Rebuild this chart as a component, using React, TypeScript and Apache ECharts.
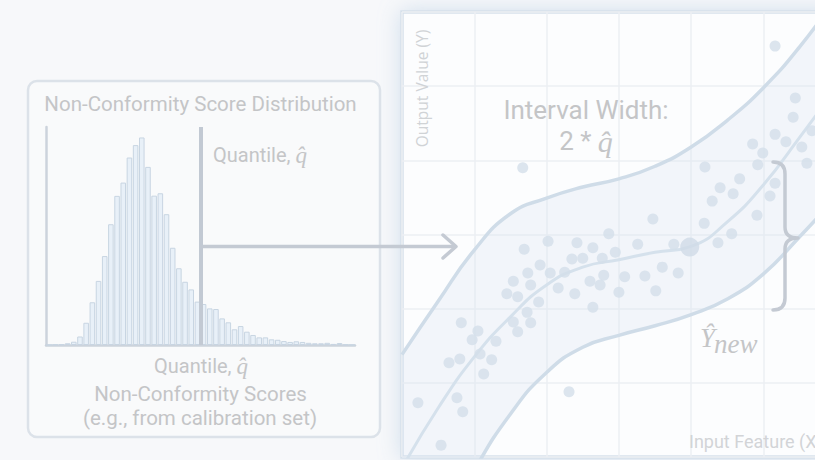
import React, { useEffect, useRef } from "react";
import * as echarts from "echarts";

// ---------- Histogram of non-conformity scores ----------
const histCounts = [
  0, 0.2, 0.3, 0.8, 1.5, 3.9, 10.2, 19.6, 29.4, 40.8, 55.4, 68.4, 74.5, 86, 91.7, 95.2,
  81.7, 68.5, 69.6, 60, 44.6, 35.2, 29, 25.5, 19.9, 18.8, 16.8, 16.5, 12.2, 10.4, 7.2,
  8.7, 6.1, 4.6, 3.5, 3.5, 2.6, 2.4, 1.8, 1.4, 1.7, 1.4, 1.0, 0.8, 0.8, 1.0, 0.5, 0.9,
  0.2, 0,
];
const histBins = histCounts.map((_, i) => `bin ${i + 1}`);

// ---------- Regression view (x: input feature, y: output value) ----------
const curveX = ["0", "0.5", "1", "1.5", "2", "2.5", "3", "3.5", "4", "4.5", "5", "5.5", "6"];
const upperBound = [1.38, 2.1, 2.79, 3.28, 3.49, 3.64, 3.75, 3.92, 4.18, 4.54, 4.98, 5.53, 6.19];
const centerFit = [-0.15, 0.66, 1.35, 1.89, 2.32, 2.56, 2.66, 2.76, 2.84, 3.17, 3.67, 4.31, 4.97];
const lowerBound = [-2.2, -1.1, -0.18, 0.58, 1.14, 1.48, 1.64, 1.77, 1.92, 2.13, 2.47, 2.97, 3.5];

const calibrationPoints: [number, number][] = [
  [5.16, 5.54], [5.44, 4.84], [5.41, 4.58], [5.16, 4.35], [4.85, 4.22], [4.99, 4.1],
  [5.31, 4.25], [5.53, 4.18], [5.67, 4.4], [5.6, 3.96], [4.92, 3.94], [4.19, 3.91],
  [1.67, 3.9], [4.67, 3.75], [4.4, 3.63], [5.16, 3.69], [4.29, 3.45], [4.58, 3.55],
  [5.09, 3.52], [4.91, 3.26], [3.47, 3.21], [4.18, 3.15], [4.56, 3.01], [4.37, 2.89],
  [2.86, 3.01], [2.02, 2.91], [2.42, 2.89], [3.26, 2.87], [1.69, 2.8], [2.64, 2.82],
  [2.95, 2.76], [3.76, 2.87], [2.35, 2.67], [2.5, 2.68], [2.77, 2.68], [1.91, 2.59],
  [1.74, 2.48], [2.05, 2.48], [2.25, 2.49], [3.6, 2.56], [3.82, 2.48], [2.79, 2.45],
  [3.08, 2.43], [3.36, 2.44], [1.54, 2.37], [2.6, 2.37], [2.74, 2.32], [1.78, 2.32],
  [2.16, 2.28], [1.45, 2.2], [1.6, 2.16], [2.39, 2.2], [3.0, 2.22], [3.51, 2.24],
  [1.89, 2.09], [1.73, 1.95], [2.64, 2.02], [1.54, 1.82], [1.78, 1.81], [1.6, 1.69],
  [0.82, 1.81], [1.05, 1.7], [0.97, 1.58], [1.3, 1.56], [1.08, 1.39], [1.24, 1.31],
  [0.8, 1.32], [0.65, 1.27], [1.13, 1.12], [2.31, 0.88], [0.76, 0.8], [0.22, 0.73],
  [0.84, 0.61], [0.54, 0.16],
];
const newPoint: [number, number][] = [[3.98, 2.83]];

// ---------- Brace shape ----------
const bracePath =
  "M773,162 Q785,162 785,174 L785,227 Q785,238 798,238 Q785,238 785,249 L785,298 Q785,310 773,310";
echarts.graphic.registerShape("brace", echarts.graphic.extendPath(bracePath, {}) as any);

const TEXT = "#c4c5c7";
const LINE = "#c4cad3";

function buildOption(): any {
  const bandWidth = upperBound.map((u, i) => u - lowerBound[i]);
  const qhat = "q\u0302";
  const hiddenAxis = {
    axisLine: { show: false },
    axisTick: { show: false },
    axisLabel: { show: false },
  };
  const panelGrid = { show: true, lineStyle: { color: "#eceff3", width: 1.5 } };

  return {
    animation: false,
    backgroundColor: "#f7f8fa",
    grid: [
      { left: 46, top: 127, width: 309, height: 218, outerBoundsMode: "none" },
      {
        left: 402,
        top: 12,
        width: 433.8,
        height: 445,
        outerBoundsMode: "none",
        show: true,
        backgroundColor: "#fcfdfe",
        borderColor: "#d6e1eb",
        borderWidth: 3.5,
        shadowColor: "rgba(160,190,220,0.45)",
        shadowBlur: 22,
      },
    ],
    xAxis: [
      {
        gridIndex: 0,
        type: "category",
        data: histBins,
        axisLine: { show: true, lineStyle: { color: "#ccd3dc", width: 2.5 } },
        axisTick: { show: false },
        axisLabel: { show: false },
        splitLine: { show: false },
      },
      {
        gridIndex: 1,
        type: "value",
        min: 0,
        max: 6,
        interval: 1,
        ...hiddenAxis,
        splitLine: panelGrid,
      },
      {
        gridIndex: 1,
        type: "category",
        data: curveX,
        boundaryGap: false,
        show: false,
        ...hiddenAxis,
        splitLine: { show: false },
      },
    ],
    yAxis: [
      {
        gridIndex: 0,
        type: "value",
        min: 0,
        max: 100,
        axisLine: { show: true, lineStyle: { color: "#ccd3dc", width: 2.5 } },
        axisTick: { show: false },
        axisLabel: { show: false },
        splitLine: { show: false },
      },
      {
        gridIndex: 1,
        type: "value",
        min: 0,
        max: 6,
        interval: 1,
        ...hiddenAxis,
        splitLine: panelGrid,
      },
    ],
    series: [
      {
        type: "bar",
        xAxisIndex: 0,
        yAxisIndex: 0,
        data: histCounts,
        barCategoryGap: "10%",
        itemStyle: { color: "#e8f0f8", borderColor: "#c8d5e2", borderWidth: 1 },
        z: 2,
      },
      {
        type: "line",
        xAxisIndex: 2,
        yAxisIndex: 1,
        data: lowerBound,
        stack: "band",
        stackStrategy: "all",
        smooth: 0.5,
        symbol: "none",
        lineStyle: { color: "#cfdce8", width: 3.5 },
        z: 2,
      },
      {
        type: "line",
        xAxisIndex: 2,
        yAxisIndex: 1,
        data: bandWidth,
        stack: "band",
        stackStrategy: "all",
        smooth: 0.5,
        symbol: "none",
        lineStyle: { color: "#cfdce8", width: 3.5 },
        areaStyle: { color: "rgba(214,228,241,0.4)" },
        z: 2,
      },
      {
        type: "line",
        xAxisIndex: 2,
        yAxisIndex: 1,
        data: centerFit,
        smooth: 0.5,
        symbol: "none",
        lineStyle: { color: "#d5e1ec", width: 3 },
        z: 3,
      },
      {
        type: "scatter",
        xAxisIndex: 1,
        yAxisIndex: 1,
        data: calibrationPoints,
        symbolSize: 11,
        itemStyle: { color: "#d3dfea" },
        z: 4,
      },
      {
        type: "scatter",
        xAxisIndex: 1,
        yAxisIndex: 1,
        data: newPoint,
        symbolSize: 19,
        itemStyle: { color: "#cfdbe7" },
        z: 4,
      },
    ],
    graphic: [
      {
        type: "rect",
        z: 0,
        shape: { x: 28, y: 81, width: 352, height: 356, r: 9 },
        style: { fill: "rgba(250,251,252,0.6)", stroke: "#dce2e9", lineWidth: 2.5 },
      },
      {
        type: "text",
        z: 50,
        x: 200.5,
        y: 104,
        style: {
          text: "Non-Conformity Score Distribution",
          fontFamily: "Roboto",
          fontSize: 20.5,
          fill: TEXT,
          align: "center",
          verticalAlign: "middle",
        },
      },
      {
        type: "line",
        z: 50,
        shape: { x1: 201, y1: 127, x2: 201, y2: 345 },
        style: { stroke: "#c2c9d3", lineWidth: 4 },
      },
      {
        type: "text",
        z: 50,
        x: 213,
        y: 155,
        style: {
          text: `{a|Quantile, }{b|${qhat}}`,
          align: "left",
          verticalAlign: "middle",
          rich: {
            a: { fontFamily: "Roboto", fontSize: 20, fill: TEXT, color: TEXT },
            b: { fontFamily: "Liberation Serif", fontStyle: "italic", fontSize: 23, fill: TEXT, color: TEXT },
          },
        },
      },
      {
        type: "text",
        z: 50,
        x: 201,
        y: 366,
        style: {
          text: `{a|Quantile, }{b|${qhat}}`,
          align: "center",
          verticalAlign: "middle",
          rich: {
            a: { fontFamily: "Roboto", fontSize: 20, fill: TEXT, color: TEXT },
            b: { fontFamily: "Liberation Serif", fontStyle: "italic", fontSize: 23, fill: TEXT, color: TEXT },
          },
        },
      },
      {
        type: "text",
        z: 50,
        x: 200.5,
        y: 394,
        style: {
          text: "Non-Conformity Scores",
          fontFamily: "Roboto",
          fontSize: 20.5,
          fill: TEXT,
          align: "center",
          verticalAlign: "middle",
        },
      },
      {
        type: "text",
        z: 50,
        x: 200,
        y: 418,
        style: {
          text: "(e.g., from calibration set)",
          fontFamily: "Roboto",
          fontSize: 20.5,
          fill: TEXT,
          align: "center",
          verticalAlign: "middle",
        },
      },
      {
        type: "line",
        z: 50,
        shape: { x1: 203, y1: 246.5, x2: 455, y2: 246.5 },
        style: { stroke: LINE, lineWidth: 3.5 },
      },
      {
        type: "polyline",
        z: 50,
        shape: { points: [[443, 235], [456, 246.5], [443, 258]] },
        style: { stroke: LINE, lineWidth: 3.5, fill: "none", lineCap: "round", lineJoin: "round" },
      },
      {
        type: "text",
        z: 50,
        x: 421.5,
        y: 88.5,
        rotation: Math.PI / 2,
        style: {
          text: "Output Value (Y)",
          fontFamily: "Open Sans",
          fontSize: 15.5,
          fill: "#d0d3d6",
          align: "center",
          verticalAlign: "middle",
        },
      },
      {
        type: "text",
        z: 50,
        x: 689,
        y: 441,
        style: {
          text: "Input Feature (X)",
          fontFamily: "Roboto",
          fontSize: 18,
          fill: "#d2d4d7",
          align: "left",
          verticalAlign: "middle",
        },
      },
      {
        type: "text",
        z: 50,
        x: 586,
        y: 110,
        style: {
          text: "Interval Width:",
          fontFamily: "Roboto",
          fontSize: 26,
          fill: TEXT,
          align: "center",
          verticalAlign: "middle",
        },
      },
      {
        type: "text",
        z: 50,
        x: 586,
        y: 141,
        style: {
          text: `{a|2 * }{b|${qhat}}`,
          align: "center",
          verticalAlign: "middle",
          rich: {
            a: { fontFamily: "Roboto", fontSize: 26, fill: TEXT, color: TEXT },
            b: { fontFamily: "Liberation Serif", fontStyle: "italic", fontSize: 30, fill: TEXT, color: TEXT },
          },
        },
      },
      {
        type: "brace",
        z: 50,
        x: 0,
        y: 0,
        style: { stroke: LINE, lineWidth: 3.5, fill: "none", lineCap: "round", lineJoin: "round" },
      },
      {
        type: "text",
        z: 50,
        x: 700,
        y: 338,
        style: {
          text: "\u0176",
          fontFamily: "Liberation Serif",
          fontStyle: "italic",
          fontSize: 27,
          fill: TEXT,
          align: "left",
          verticalAlign: "middle",
        },
      },
      {
        type: "text",
        z: 50,
        x: 714,
        y: 344,
        style: {
          text: "new",
          fontFamily: "Liberation Serif",
          fontStyle: "italic",
          fontSize: 27,
          fill: TEXT,
          align: "left",
          verticalAlign: "middle",
        },
      },
    ],
  };
}

export default function App() {
  const ref = useRef<HTMLDivElement>(null);
  useEffect(() => {
    if (!ref.current) return;
    const chart = echarts.init(ref.current, undefined, { renderer: "svg" });
    chart.setOption(buildOption());
    return () => chart.dispose();
  }, []);
  return (
    <div
      ref={ref}
      style={{ position: "fixed", left: 0, top: 0, width: 815, height: 460, overflow: "hidden" }}
    />
  );
}
